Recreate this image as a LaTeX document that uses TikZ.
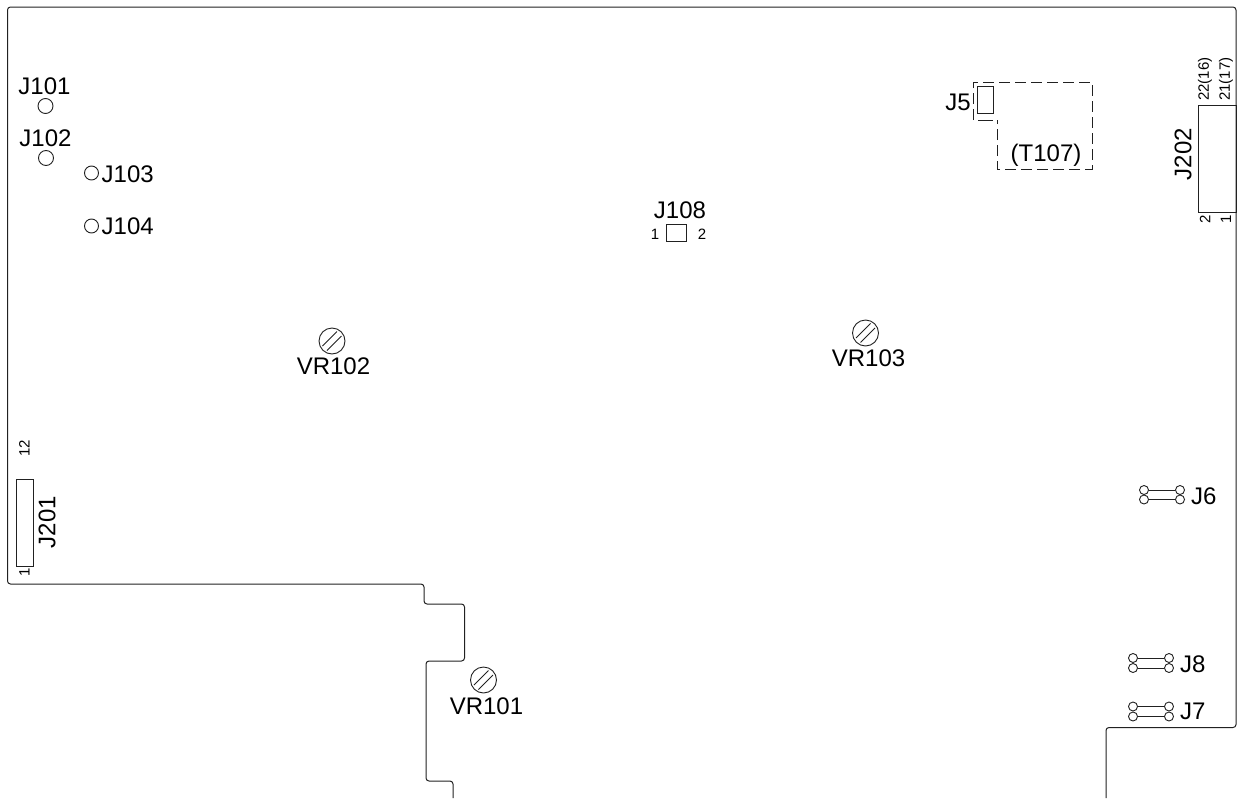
\documentclass[tikz,border=0pt]{standalone}
\usepackage{fontspec}
\setmainfont{Liberation Sans}
\definecolor{ink}{gray}{0.13}
\tikzset{
  lbl/.style={inner sep=0pt,font=\fontsize{24}{24}\selectfont,text=black},
  sm/.style={inner sep=0pt,font=\fontsize{15}{15}\selectfont,text=black},
  hole/.style={circle,draw=ink,line width=0.9pt,minimum size=15pt,inner sep=0pt},
  pad/.style={circle,draw=ink,line width=0.9pt,minimum size=9pt,inner sep=0pt},
  trim/.style={circle,draw=ink,line width=0.9pt,minimum size=26pt,inner sep=0pt},
  slot/.style={draw=ink,line width=0.9pt},
  edge/.style={draw=ink,line width=1pt,rounded corners=3pt},
  link/.style={draw=ink,line width=1pt},
  dashline/.style={draw=ink,line width=0.9pt,dash pattern=on 11pt off 5pt}
}
\newcommand{\boxat}[3]{\node[slot,minimum width=#2,minimum height=#3,inner sep=0pt] at (#1) {};}
\begin{document}
\begin{tikzpicture}[x=1pt,y=-1pt]
\useasboundingbox (0,0) rectangle (1239,798);
% board outline
\draw[edge] (453,798) -- (453,781) -- (426,781) -- (426,661) -- (464.5,661) -- (464.5,604) -- (424,604) -- (424,584) -- (7.5,584) -- (7.5,7) -- (1236,7) -- (1236,727.5) -- (1106,727.5) -- (1106,798);
% test points
\node[hole] (h101) at (45.5,106) {};
\node[hole] (h102) at (46,158) {};
\node[hole,minimum size=14pt] (h103) at (91.5,173) {};
\node[hole,minimum size=14pt] (h104) at (91.5,226) {};
\node[lbl] (t101) at (44.5,86) {J101};
\node[lbl] (t102) at (45.5,138) {J102};
\node[lbl,anchor=west] (t103) at (101.5,174.5) {J103};
\node[lbl,anchor=west] (t104) at (101.5,226.5) {J104};
% J108
\node[slot,minimum width=20pt,minimum height=17pt,inner sep=0pt] (j108) at (676,232.5) {};
\node[lbl] (t108) at (680,210) {J108};
\node[sm] (p1) at (655,234) {1};
\node[sm] (p2) at (702,234.5) {2};
% trimmers
\foreach \n/\x/\y in {a/332/341,b/865.5/333,c/483.5/680}{
  \node[trim] (vr\n) at (\x,\y) {};
  \draw[slot] (\x-9.5,\y+5) -- (\x+5,\y-9.5);
  \draw[slot] (\x-5,\y+9.5) -- (\x+9.5,\y-5);
}
\node[lbl] (ta) at (333.5,366) {VR102};
\node[lbl] (tb) at (868.5,358) {VR103};
\node[lbl] (tc) at (486.5,706) {VR101};
% J5 and T107
\node[slot,minimum width=15.5pt,minimum height=27pt,inner sep=0pt] (j5) at (985.5,99.5) {};
\node[lbl] (t5) at (958,102) {J5};
\draw[dashline] (973,120) -- (973,82) -- (1092,82) -- (1092,169) -- (997,169) -- (997,120);
\draw[slot] (978,120) -- (993,120);
\node[lbl] (t107) at (1046,155) {(T107)};
% J202
\node[slot,minimum width=38pt,minimum height=106.5pt,inner sep=0pt] (j202) at (1217,159) {};
\node[lbl,rotate=90] (t202) at (1183,154) {J202};
\node[sm,rotate=90,anchor=west] (a22) at (1205,101) {22(16)};
\node[sm,rotate=90,anchor=west] (a21) at (1226,101) {21(17)};
\node[sm,rotate=90] (a2) at (1205,219) {2};
\node[sm,rotate=90] (a1) at (1226,219) {1};
% J201
\node[slot,minimum width=17pt,minimum height=87pt,inner sep=0pt] (j201) at (24.5,522.5) {};
\node[lbl,rotate=90] (t201) at (47,522) {J201};
\node[sm,rotate=90,anchor=west] (b12) at (24.5,457) {12};
\node[sm,rotate=90] (b1) at (24.5,572) {1};
% jumpers
\foreach \n/\xa/\xb/\ya/\yb/\lx/\ly in {six/1144/1180/490/499.5/1190/496,eight/1133/1169/658/668/1179/664,seven/1133/1169/706.5/716.5/1179/712}{
  \node[pad] (\n a) at (\xa,\ya) {};
  \node[pad] (\n b) at (\xa,\yb) {};
  \node[pad] (\n c) at (\xb,\ya) {};
  \node[pad] (\n d) at (\xb,\yb) {};
  \draw[link] (\n a.east) -- (\n c.west);
  \draw[link] (\n b.east) -- (\n d.west);
}
\node[lbl,anchor=west] (t6) at (1191,496) {J6};
\node[lbl,anchor=west] (t8) at (1180,664) {J8};
\node[lbl,anchor=west] (t7) at (1180,711.5) {J7};
\end{tikzpicture}
\end{document}
